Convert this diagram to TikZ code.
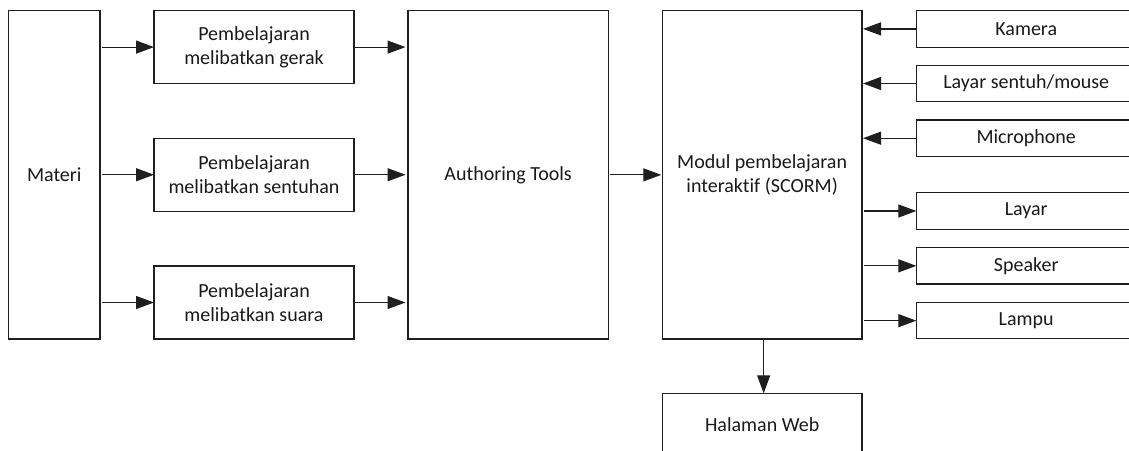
\documentclass[tikz,border=0pt]{standalone}
\usepackage{fontspec}
\setmainfont{Carlito}[Ligatures={NoCommon}]
\usetikzlibrary{arrows.meta}
\begin{document}
\begin{tikzpicture}[x=1pt,y=-1pt,
  box/.style={draw=black!88, line width=1.2pt, inner sep=0pt, outer sep=0pt,
    align=center, font=\fontsize{20}{24.4}\selectfont, text=black!90},
  arr/.style={draw=black!88, line width=1.2pt, -{Triangle[length=18pt,width=13pt]}}]
\useasboundingbox (0,0) rectangle (1129,450);
\clip (0,0) rectangle (1129,450);
% input material and the three learning modes
\node[box, minimum width=91.5pt, minimum height=328.3pt] (materi) at (54.25,174.85) {Materi};
\node[box, minimum width=200pt, minimum height=73pt] (gerak) at (254,47.1) {Pembelajaran\\melibatkan gerak};
\node[box, minimum width=200pt, minimum height=73pt] (sentuh) at (254,174.75) {Pembelajaran\\melibatkan sentuhan};
\node[box, minimum width=200pt, minimum height=73pt] (suara) at (254,302.5) {Pembelajaran\\melibatkan suara};
% authoring and resulting module
\node[box, minimum width=200.3pt, minimum height=328.3pt] (author) at (508.15,174.85) {Authoring Tools};
\node[box, minimum width=199.7pt, minimum height=328.3pt] (modul) at (762.15,174.85) {Modul pembelajaran\\interaktif (SCORM)};
\node[box, minimum width=199.7pt, minimum height=62pt] (web) at (762.15,424.3) {Halaman Web};
% devices
\node[box, minimum width=219.7pt, minimum height=36.4pt] (kamera) at (1026.2,28.9) {Kamera};
\node[box, minimum width=219.7pt, minimum height=36.4pt] (touch) at (1026.2,83.5) {Layar sentuh/mouse};
\node[box, minimum width=219.7pt, minimum height=36.4pt] (mic) at (1026.2,138.2) {Microphone};
\node[box, minimum width=219.7pt, minimum height=36.4pt] (layar) at (1026.2,211) {Layar};
\node[box, minimum width=219.7pt, minimum height=36.4pt] (speaker) at (1026.2,265.85) {Speaker};
\node[box, minimum width=219.7pt, minimum height=36.4pt] (lampu) at (1026.2,320.65) {Lampu};
% connectors
\foreach \t in {gerak,sentuh,suara}{
  \draw[arr, shorten <=2pt] (materi.east |- \t.west) -- (\t.west);
  \draw[arr, shorten >=2.5pt] (\t.east) -- (author.west |- \t.east);
}
\draw[arr, shorten <=2pt, shorten >=1pt] (author.east) -- (modul.west);
\foreach \s in {kamera,touch,mic}
  \draw[arr, shorten >=1pt] (\s.west) -- (modul.east |- \s.west);
\foreach \d in {layar,speaker,lampu}
  \draw[arr, shorten <=2pt] (modul.east |- \d.west) -- (\d.west);
\draw[arr] ([xshift=1.5pt]modul.south) -- ([xshift=1.5pt]web.north);
\end{tikzpicture}
\end{document}
